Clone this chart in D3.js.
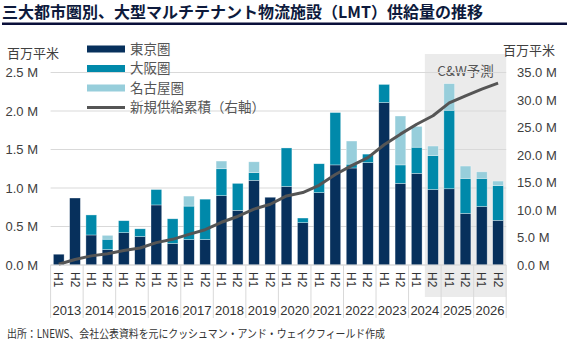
<!DOCTYPE html>
<html>
<head>
<meta charset="utf-8">
<script src="https://cdn.jsdelivr.net/npm/d3@7"></script>
<style>
  html, body { margin: 0; padding: 0; background: #fff; }
  svg { display: block; }
  text { font-family: "Liberation Sans", "Noto Sans CJK JP", sans-serif; }
  .jp { font-family: "Noto Sans CJK JP", "Liberation Sans", sans-serif; }
</style>
</head>
<body>
<svg id="chart" width="567" height="341"></svg>
<script>
// Half-year periods 2013 H1 .. 2026 H2
const years = [2013, 2014, 2015, 2016, 2017, 2018, 2019, 2020, 2021, 2022, 2023, 2024, 2025, 2026];
const halves = ["H1", "H2"];
const periods = years.flatMap(y => halves.map(h => `${y} ${h}`));

// New supply by metro area (million m²)
const tokyo  = [0.14, 0.87, 0.39, 0.20, 0.42, 0.37, 0.78, 0.28, 0.33, 0.33, 0.90, 0.71, 1.10, 0.88,
                1.02, 0.55, 0.94, 1.30, 1.26, 1.33, 2.11, 1.06, 1.19, 0.98, 0.99, 0.67, 0.76, 0.58];
const osaka  = [0.00, 0.00, 0.26, 0.135, 0.155, 0.10, 0.20, 0.32, 0.435, 0.525, 0.35, 0.35, 0.10, 0.00,
                0.50, 0.06, 0.375, 0.68, 0.05, 0.11, 0.235, 0.24, 0.34, 0.44, 1.02, 0.455, 0.365, 0.45];
const nagoya = [0.00, 0.00, 0.00, 0.05, 0.00, 0.00, 0.00, 0.00, 0.13, 0.00, 0.10, 0.00, 0.14, 0.00,
                0.00, 0.00, 0.00, 0.00, 0.30, 0.00, 0.00, 0.635, 0.27, 0.125, 0.345, 0.16, 0.085, 0.06];

// Cumulative new supply (million m², right axis)
const cumulative = [0.14, 1.01, 1.66, 2.05, 2.62, 3.09, 4.07, 4.67, 5.57, 6.42, 7.77, 8.82, 10.16, 11.04,
                    12.56, 13.17, 14.48, 16.46, 18.07, 19.51, 21.86, 23.79, 25.59, 27.13, 29.48, 30.77, 31.98, 33.07];

// Forecast periods start here
const forecastStart = "2024 H2";

const leftTicks = [0, 0.5, 1.0, 1.5, 2.0, 2.5];
const rightTicks = [0, 5, 10, 15, 20, 25, 30, 35];

const seriesNames = ["東京圏", "大阪圏", "名古屋圏"];
const lineName = "新規供給累積（右軸）";
const colors = ["#07305c", "#0089aa", "#97cedb"];
const lineColor = "#555555";

const svg = d3.select("#chart");

// Title and rule
svg.append("text").attr("class", "jp")
  .attr("x", 2).attr("y", 17.5)
  .attr("font-size", 16).attr("font-weight", "bold").attr("fill", "#0d1a3c")
  .text("三大都市圏別、大型マルチテナント物流施設（LMT）供給量の推移");
svg.append("rect").attr("x", 2).attr("y", 22.5).attr("width", 565).attr("height", 2.5).attr("fill", "#0a0f3a");

// Scales
const x = d3.scaleBand().domain(periods).range([50.6, 506.2]).paddingInner(0.34).paddingOuter(0.17);
const yL = d3.scaleLinear().domain([0, 2.5]).range([265, 72.5]);
const yR = d3.scaleLinear().domain([0, 35]).range([265, 72.5]);
const step = x.step();
const x0 = x.range()[0];

// Forecast shading
const fx = x(forecastStart) - x.paddingInner() * step / 2;
svg.append("rect")
  .attr("x", fx).attr("y", 54)
  .attr("width", x.range()[1] - fx).attr("height", 297 - 54)
  .attr("fill", "#ebebeb");
svg.append("text").attr("class", "jp")
  .attr("x", (fx + x.range()[1]) / 2).attr("y", 75.5)
  .attr("text-anchor", "middle").attr("font-size", 13.5).attr("fill", "#555")
  .text("C&W予測");

// Gridlines
svg.append("g").selectAll("line").data(leftTicks).join("line")
  .attr("x1", x0).attr("x2", x.range()[1])
  .attr("y1", d => yL(d)).attr("y2", d => yL(d))
  .attr("stroke", "#d9d9d9").attr("stroke-width", 1);

// Left axis
const axL = svg.append("g").attr("transform", "translate(38,0)")
  .call(d3.axisLeft(yL).tickValues(leftTicks).tickSize(0).tickPadding(0).tickFormat(d => d3.format(".1f")(d) + " M"));
axL.select(".domain").remove();
axL.selectAll("text").attr("font-size", 13).attr("fill", "#404040").attr("font-family", "Liberation Sans, sans-serif");

// Right axis
const axR = svg.append("g").attr("transform", "translate(517,0)")
  .call(d3.axisRight(yR).tickValues(rightTicks).tickSize(0).tickPadding(0).tickFormat(d => d3.format(".1f")(d) + " M"));
axR.select(".domain").remove();
axR.selectAll("text").attr("font-size", 13).attr("fill", "#404040").attr("font-family", "Liberation Sans, sans-serif");

// Unit labels
svg.append("text").attr("class", "jp").attr("x", 7).attr("y", 58)
  .attr("font-size", 13).attr("fill", "#404040").text("百万平米");
svg.append("text").attr("class", "jp").attr("x", 503).attr("y", 55)
  .attr("font-size", 13).attr("fill", "#404040").text("百万平米");

// Stacked bars
const rows = periods.map((p, i) => ({ period: p, tokyo: tokyo[i], osaka: osaka[i], nagoya: nagoya[i] }));
const stack = d3.stack().keys(["tokyo", "osaka", "nagoya"])(rows);
svg.append("g").selectAll("g").data(stack).join("g")
  .attr("fill", (d, i) => colors[i])
  .selectAll("rect").data(d => d.filter(s => s[1] - s[0] > 0)).join("rect")
  .attr("x", d => x(d.data.period))
  .attr("width", x.bandwidth())
  .attr("y", d => yL(d[1]))
  .attr("height", d => yL(d[0]) - yL(d[1]))
  .attr("stroke", "rgba(255,255,255,0.55)").attr("stroke-width", 0.6);

// Cumulative line
const line = d3.line()
  .x((d, i) => x(periods[i]) + x.bandwidth() / 2)
  .y(d => yR(d));
svg.append("path").datum(cumulative)
  .attr("d", line).attr("fill", "none")
  .attr("stroke", lineColor).attr("stroke-width", 3)
  .attr("stroke-linejoin", "round").attr("stroke-linecap", "butt");

// Category axis: year separators, half-year labels, year labels
svg.append("g").selectAll("line").data(d3.range(years.length + 1)).join("line")
  .attr("x1", i => x0 + i * 2 * step).attr("x2", i => x0 + i * 2 * step)
  .attr("y1", 265).attr("y2", 318)
  .attr("stroke", "#d9d9d9").attr("stroke-width", 1);
svg.append("line").attr("x1", x0).attr("x2", x.range()[1]).attr("y1", 265).attr("y2", 265)
  .attr("stroke", "#d9d9d9");

svg.append("g").selectAll("text").data(periods).join("text")
  .attr("transform", d => `translate(${x(d) + x.bandwidth() / 2 - 4.5},272) rotate(90)`)
  .attr("font-size", 12).attr("fill", "#333")
  .text(d => d.split(" ")[1]);

svg.append("g").selectAll("text").data(years).join("text")
  .attr("x", (d, i) => x0 + (i * 2 + 1) * step)
  .attr("y", 315)
  .attr("text-anchor", "middle").attr("font-size", 13).attr("fill", "#333")
  .text(d => d);

// Legend
const legend = svg.append("g");
seriesNames.forEach((name, i) => {
  const cy = 49 + i * 19.5;
  legend.append("rect").attr("x", 87).attr("y", cy - 3.5).attr("width", 38).attr("height", 7).attr("fill", colors[i]);
  legend.append("text").attr("class", "jp").attr("x", 130).attr("y", cy + 4.8)
    .attr("font-size", 13.5).attr("fill", "#555").text(name);
});
legend.append("line").attr("x1", 87).attr("x2", 125).attr("y1", 107.5).attr("y2", 107.5)
  .attr("stroke", lineColor).attr("stroke-width", 3);
legend.append("text").attr("class", "jp").attr("x", 130).attr("y", 112.3)
  .attr("font-size", 13.5).attr("fill", "#555").text(lineName);

// Source note
svg.append("text").attr("class", "jp").attr("x", 7).attr("y", 337.5)
  .attr("font-size", 11.5).attr("fill", "#333")
  .attr("textLength", 378).attr("lengthAdjust", "spacingAndGlyphs")
  .text("出所：LNEWS、会社公表資料を元にクッシュマン・アンド・ウェイクフィールド作成");
</script>
</body>
</html>
